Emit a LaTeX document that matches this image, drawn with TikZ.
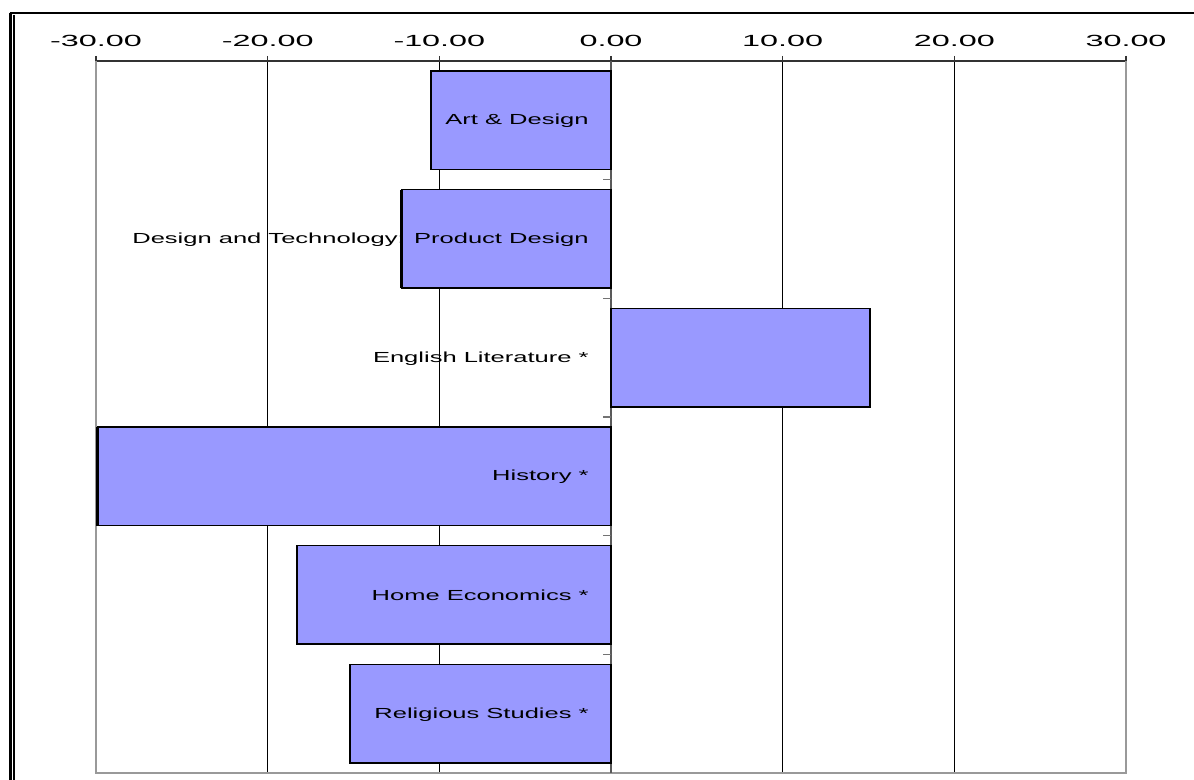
\documentclass[tikz,border=0pt]{standalone}
\usepackage{fontspec}
\newfontfamily\chartfont[FakeStretch=1.75]{Liberation Sans}
\newfontfamily\tickfont[FakeStretch=2.0]{Liberation Sans}
\definecolor{barblue}{HTML}{9999FF}
\definecolor{axisgray}{HTML}{999999}

\begin{document}
\begin{tikzpicture}[x=0.02cm, y=-0.02cm,
	bar/.style={draw=black, line width=0.9pt, fill=barblue},
	barlabel/.style={anchor=east, inner sep=0pt, font=\chartfont\fontsize{8.3pt}{9pt}\selectfont},
	ticklabel/.style={inner sep=0pt, font=\tickfont\fontsize{9.2pt}{10pt}\selectfont},
	grid/.style={black, line width=0.6pt}]
		\useasboundingbox (0, 0) rectangle (1194, 780);

		% 外框
		\draw[line width=1.2pt] (9.5, 13) -- (1194, 13);
		\draw[line width=1.2pt] (10.5, 13) -- (10.5, 780);
		\draw[line width=0.6pt] (14, 15) -- (14, 780);

		% 网格线与刻度
		\foreach \v in {-20, -10, 10, 20}
			\draw[grid] (611 + 17.167*\v, 61) -- (611 + 17.167*\v, 773);
		\foreach \v in {-30, -20, ..., 30}
			\draw[line width=0.6pt, black!80] (611 + 17.167*\v, 56) -- (611 + 17.167*\v, 61);
		\draw[line width=0.7pt, black!80] (96, 61) -- (1126, 61);
		\draw[axisgray, line width=1.6pt] (96, 61) -- (96, 773) -- (1126, 773) -- (1126, 61);

		% 零轴
		\draw[black!65, line width=0.8pt] (611, 61) -- (611, 773);
		\foreach \k in {1, ..., 5}
			\draw[black!55, line width=0.6pt] (603, 61 + 118.67*\k) -- (611, 61 + 118.67*\k);

		% 坐标标签
		\foreach \t/\s [count=\i] in {-30/-30.00, -20/-20.00, -10/-10.00, 0/0.00, 10/10.00, 20/20.00, 30/30.00}
			\node[ticklabel] (tick\i) at (611 + 17.167*\t, 41) {\s};

		% 条形
		\foreach \v/\lab [count=\k from 0] in {-10.5/Art \& Design, -12.2/Design and Technology: Product Design,
				15.1/English Literature *, -29.9/History *, -18.3/Home Economics *, -15.2/Religious Studies *}
		{
			\draw[bar] (611, 71 + 118.67*\k) rectangle (611 + 17.167*\v, 169.5 + 118.67*\k);
			\draw[line width=1.4pt] (611 + 17.167*\v, 71 + 118.67*\k) -- (611 + 17.167*\v, 169.5 + 118.67*\k);
			\node[barlabel] (label\k) at (589, 121 + 118.67*\k) {\lab};
		}
	\end{tikzpicture}
\end{document}
